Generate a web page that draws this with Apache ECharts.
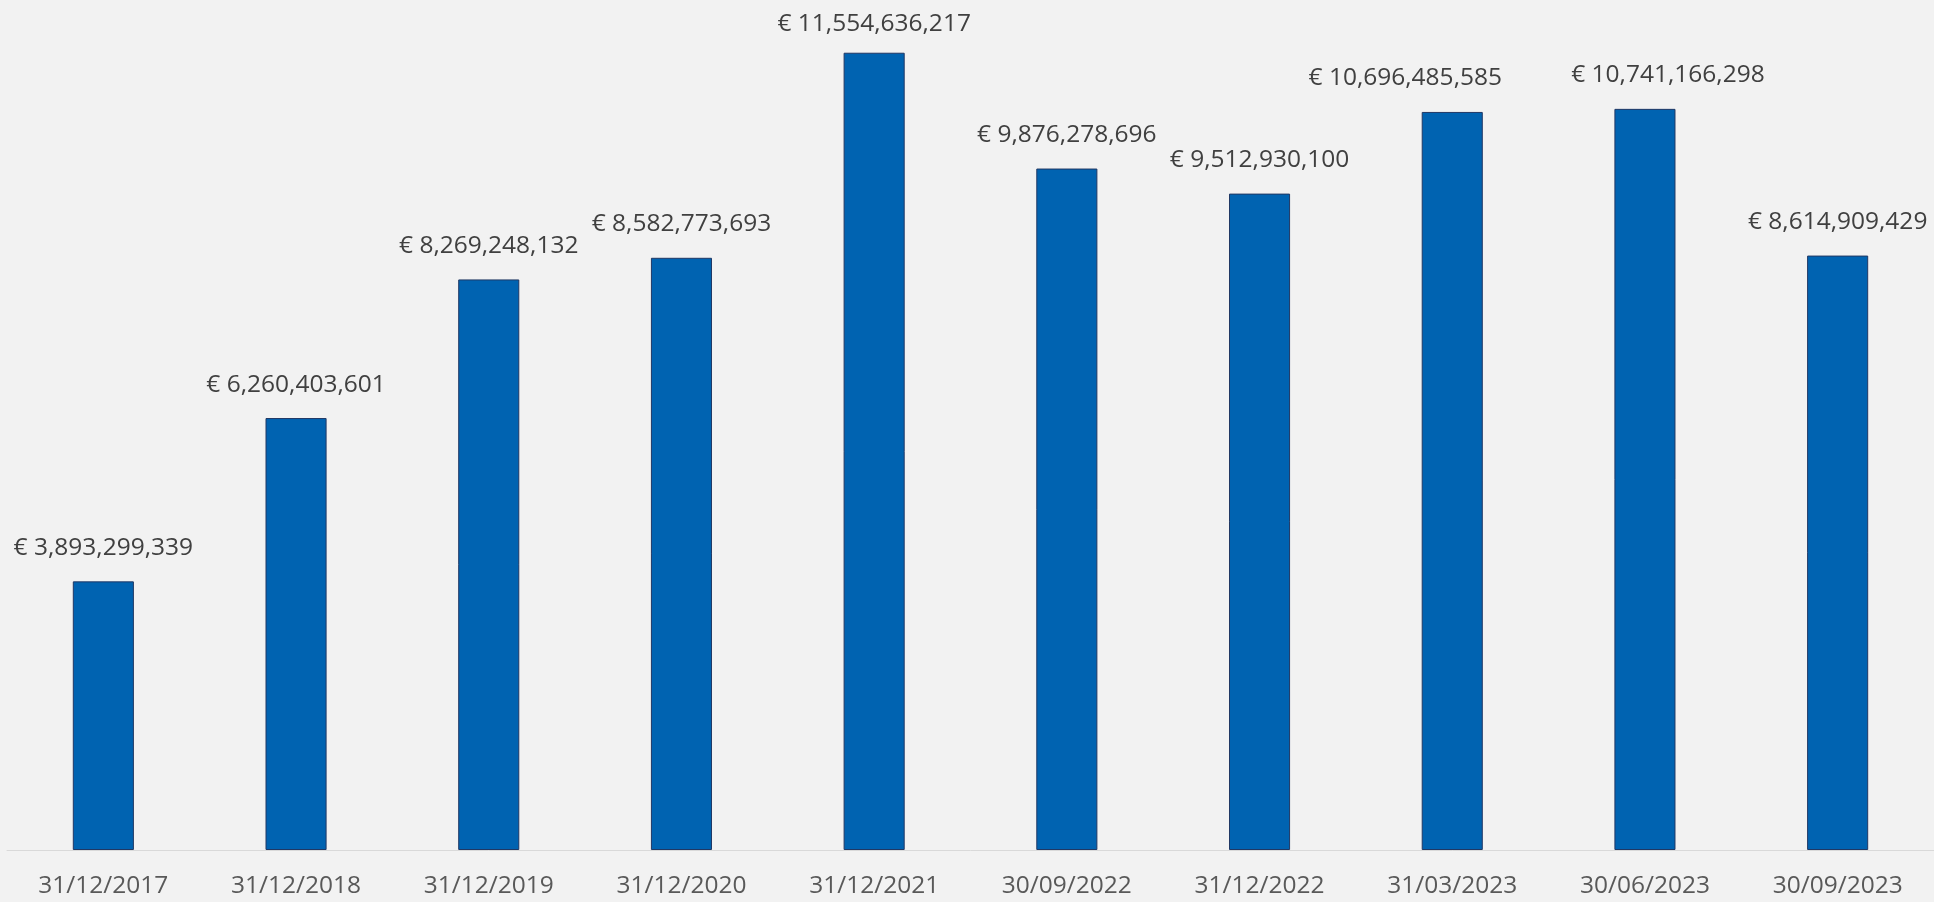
<!DOCTYPE html>
<html>
<head>
<meta charset="utf-8">
<script src="https://cdn.jsdelivr.net/npm/echarts@6/dist/echarts.min.js"></script>
<style>
html,body{margin:0;padding:0;background:#F2F2F2;}
#chart{width:1934px;height:902px;}
</style>
</head>
<body>
<div id="chart"></div>
<script>
const categories = ['31/12/2017','31/12/2018','31/12/2019','31/12/2020','31/12/2021','30/09/2022','31/12/2022','31/03/2023','30/06/2023','30/09/2023'];
const values = [3893299339, 6260403601, 8269248132, 8582773693, 11554636217, 9876278696, 9512930100, 10696485585, 10741166298, 8614909429];

function fmt(v){ return '€ ' + v.toString().replace(/\B(?=(\d{3})+(?!\d))/g, ','); }

// label nudges (as in the original, where labels were moved to avoid overlap)
const labelOffsets = { 4: [0, 5], 7: [-47, 0], 8: [23, 0] };

const seriesData = values.map((v, i) => {
  const item = { value: v };
  if (labelOffsets[i]) item.label = { offset: labelOffsets[i] };
  return item;
});

const chart = echarts.init(document.getElementById('chart'));
chart.setOption({
  backgroundColor: '#F2F2F2',
  animation: false,
  grid: { left: 7, right: 0, top: 22, bottom: 52, containLabel: false },
  xAxis: {
    type: 'category',
    data: categories,
    axisLine: { show: true, lineStyle: { color: '#D9D9D9', width: 1 } },
    axisTick: { show: false },
    axisLabel: { color: '#595959', fontFamily: 'Open Sans', fontSize: 24.5, margin: 24, interval: 0 }
  },
  yAxis: {
    type: 'value', min: 0, max: 12000000000,
    show: false,
    splitLine: { show: false }
  },
  series: [{
    type: 'bar',
    data: seriesData,
    barWidth: '31.7%',
    itemStyle: { color: '#0063B1', borderColor: '#203864', borderWidth: 1 },
    label: {
      show: true, position: 'top', distance: 21,
      color: '#404040', fontFamily: 'Open Sans', fontSize: 24.5,
      formatter: p => fmt(p.value)
    }
  }]
});
</script>
</body>
</html>
